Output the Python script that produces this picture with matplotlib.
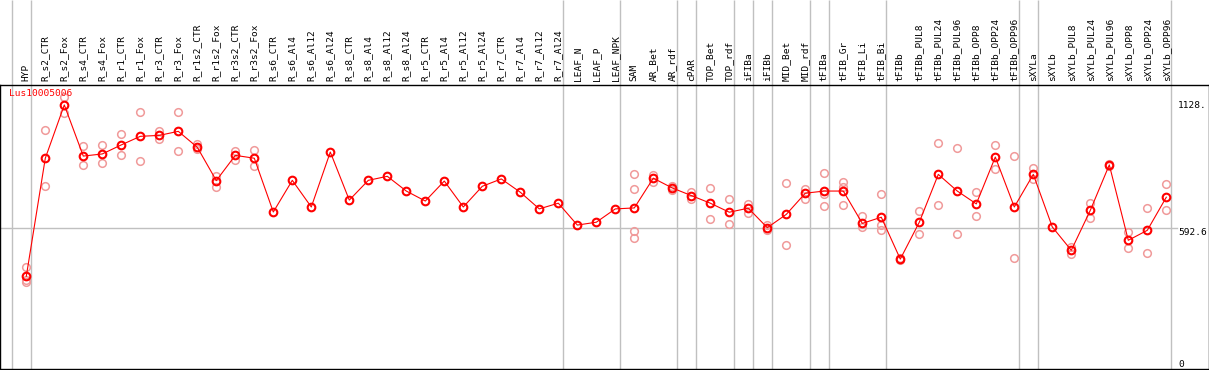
import matplotlib
matplotlib.use('Agg')
import matplotlib.pyplot as plt
import matplotlib.transforms as mtransforms

plt.rcParams['font.family'] = 'DejaVu Sans Mono'

categories = ["HYP", "R_s2_CTR", "R_s2_Fox", "R_s4_CTR", "R_s4_Fox", "R_r1_CTR", "R_r1_Fox",
              "R_r3_CTR", "R_r3_Fox", "R_r1s2_CTR", "R_r1s2_Fox", "R_r3s2_CTR", "R_r3s2_Fox",
              "R_s6_CTR", "R_s6_Al4", "R_s6_Al12", "R_s6_Al24", "R_s8_CTR", "R_s8_Al4",
              "R_s8_Al12", "R_s8_Al24", "R_r5_CTR", "R_r5_Al4", "R_r5_Al12", "R_r5_Al24",
              "R_r7_CTR", "R_r7_Al4", "R_r7_Al12", "R_r7_Al24", "LEAF_N", "LEAF_P", "LEAF_NPK",
              "SAM", "AR_Bet", "AR_rdf", "cPAR", "TOP_Bet", "TOP_rdf", "iFIBa", "iFIBb",
              "MID_Bet", "MID_rdf", "tFIBa", "tFIB_Gr", "tFIB_Li", "tFIB_Bi", "tFIBb",
              "tFIBb_PUL8", "tFIBb_PUL24", "tFIBb_PUL96", "tFIBb_OPP8", "tFIBb_OPP24",
              "tFIBb_OPP96", "sXYLa", "sXYLb", "sXYLb_PUL8", "sXYLb_PUL24", "sXYLb_PUL96",
              "sXYLb_OPP8", "sXYLb_OPP24", "sXYLb_OPP96"]

# mean expression
expr = [390, 886, 1110, 895, 904, 942, 978, 982, 999, 932, 792, 898, 886,
        660, 793, 681, 912, 710, 793, 810, 748, 706, 790, 681, 768,
        799, 743, 673, 697, 605, 617, 673,
        677, 802, 761, 729, 697, 659, 676, 594, 650, 739, 748, 748, 612, 638,
        462, 617, 818, 748, 694, 891, 681,
        818, 597, 499, 667, 858, 541, 583, 722]

# replicate values
reps = [[429, 374, 366], [1003, 768], [1142, 1077], [936, 856], [942, 865], [987, 898],
        [1082, 873], [1002, 966], [1079, 915], [945, 924], [813, 766], [918, 877], [921, 852],
        [], [], [], [], [], [], [], [], [], [], [], [], [], [], [], [], [], [], [],
        [820, 755, 579, 549], [817, 786], [769, 752], [743, 715], [760, 629], [713, 608],
        [692, 657], [604, 584], [781, 520], [757, 716], [823, 736, 684], [786, 766, 688],
        [643, 598], [734, 605, 583], [466, 458], [663, 568], [949, 688], [928, 568],
        [743, 642], [940, 839], [895, 465], [844, 800], [], [514, 483], [697, 636],
        [862, 853], [575, 507], [676, 486], [776, 670]]

# groups end after these indices
group_ends = [-1, 0, 28, 31, 34, 35, 37, 38, 39, 41, 42, 45, 52, 53, 60]

y_ticks = [1128, 592.6, 0]
y_tick_labels = ["1128.", "592.6", "0"]
gene = "Lus10005006"

W, H = 1209, 370
fig = plt.figure(figsize=(W / 100, H / 100), dpi=100)
ax = fig.add_axes([0, 1 / H, 1, 284 / H])

step = 19.0
x0 = 26.3
ax.set_xlim(-x0 / step, (W - x0) / step)
ax.set_ylim(0, 284 / 0.2379)

trans = ax.get_xaxis_transform()
for g in group_ends:
    ax.vlines(g + 0.23, 0, 369 / 284, transform=trans, color='#c0c0c0', lw=1, clip_on=False, zorder=1)
ax.axhline(592.6, xmin=0, xmax=1177 / W, color='#c0c0c0', lw=1, zorder=1)

rx, ry = [], []
for i, vals in enumerate(reps):
    for v in vals:
        rx.append(i)
        ry.append(v)
ax.plot(rx, ry, 'o', ls='none', ms=5.5, mfc='none', mec='#f09a9a', mew=1.1, zorder=3)
ax.plot(range(len(expr)), expr, '-o', color='#ff0000', lw=0.8, ms=5.5, mfc='none',
        mec='#ff0000', mew=1.5, zorder=4)

ax.xaxis.tick_top()
ax.set_xticks(range(len(categories)))
ax.set_xticklabels(categories, rotation=90, fontsize=6.8)
ax.tick_params(axis='x', length=0, pad=3)
ax.set_yticks([])

for sp in ax.spines.values():
    sp.set_linewidth(1)
    sp.set_color('black')

ytrans = mtransforms.blended_transform_factory(fig.transFigure, ax.transData)
for v, lab in zip(y_ticks, y_tick_labels):
    ax.text(1178 / W, v, lab, transform=ytrans, fontsize=6.8, ha='left',
            va='bottom' if v == 0 else 'top')

ax.text(9 / W, 1 - 8 / 284, gene, transform=ax.transAxes, color='#ff0000', fontsize=6.8,
        ha='left', va='center')

fig.savefig('out.png', dpi=100)
